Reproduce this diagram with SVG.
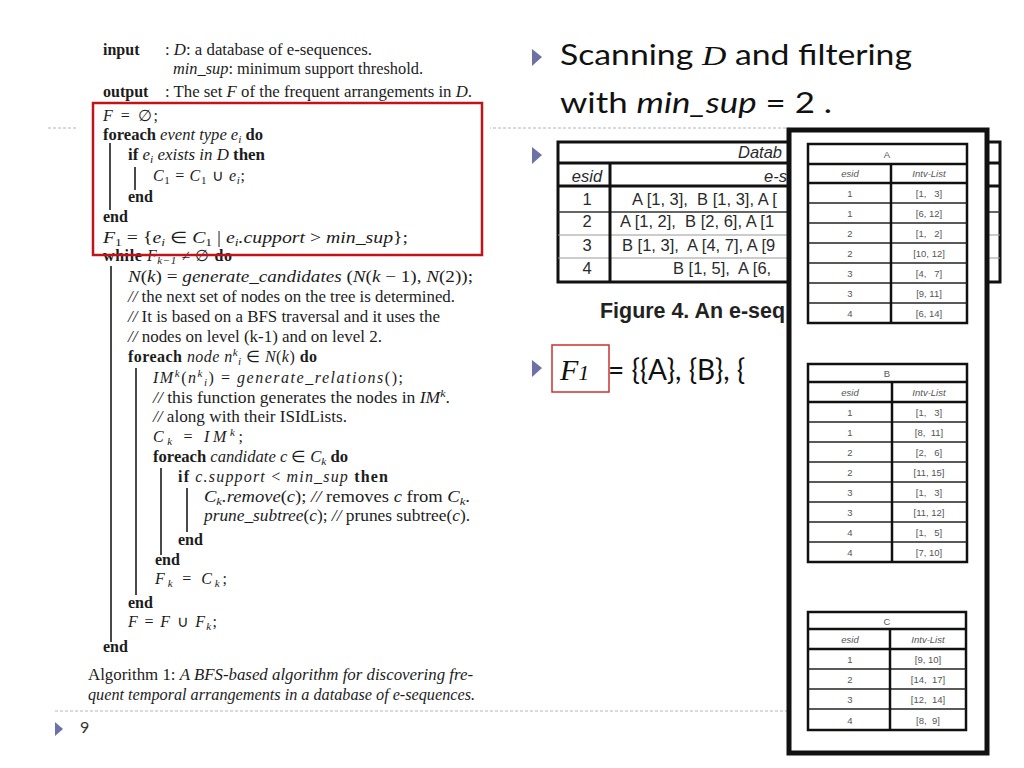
<svg xmlns="http://www.w3.org/2000/svg" width="1024" height="768" viewBox="0 0 1024 768">
<defs>
<style>
.alg{font-family:"Liberation Serif","Times New Roman",serif;font-size:16px;fill:#1c1c1c}
.b{font-weight:bold}
.i{font-style:italic}
.s{font-size:11px}
.bar{stroke:#1c1c1c;stroke-width:1.6}
.dash{stroke:#b4b4c4;stroke-width:1;stroke-dasharray:3 2}
.bul{fill:#6c71a6}
.big{font-family:Lato,"Open Sans",sans-serif;font-size:28px;fill:#111}
.db{font-family:"Liberation Sans",Arial,sans-serif;font-size:16.5px;fill:#2a2a2a}
.dbc{text-anchor:middle}
.tt{font-family:"Liberation Sans",Arial,sans-serif;font-size:9.5px;fill:#555;text-anchor:middle}
.tl{stroke:#111;fill:none}
.thick{stroke:#111;stroke-width:2.5}
.thin{stroke:#222;stroke-width:1.5}
</style>
</defs>
<rect width="1024" height="768" fill="#fff"/>

<g id="slide-lines">
<line class="dash" x1="48" y1="128" x2="790" y2="128"/>
<line class="dash" x1="55" y1="711" x2="790" y2="711"/>
</g>

<g id="algorithm">
<rect x="78" y="38" width="412" height="668" fill="#fff"/>
<text class="alg b" x="103" y="55">input</text>
<text class="alg" x="165" y="55" textLength="207" lengthAdjust="spacingAndGlyphs">: <tspan class="i">D</tspan>: a database of e-sequences.</text>
<text class="alg" x="173" y="74" textLength="250" lengthAdjust="spacingAndGlyphs"><tspan class="i">min_sup</tspan>: minimum support threshold.</text>
<text class="alg b" x="103" y="97">output</text>
<text class="alg" x="165" y="97" textLength="307" lengthAdjust="spacingAndGlyphs">: The set <tspan class="i">F</tspan> of the frequent arrangements in <tspan class="i">D</tspan>.</text>

<text class="alg" x="103" y="121" textLength="55" lengthAdjust="spacing"><tspan class="i">F</tspan> = ∅;</text>
<text class="alg" x="103" y="140" textLength="160" lengthAdjust="spacingAndGlyphs"><tspan class="b">foreach</tspan> <tspan class="i">event type e</tspan><tspan class="s i" dy="3">i</tspan><tspan class="b" dy="-3"> do</tspan></text>
<text class="alg" x="128" y="160" textLength="137" lengthAdjust="spacingAndGlyphs"><tspan class="b">if</tspan> <tspan class="i">e</tspan><tspan class="s i" dy="3">i</tspan><tspan class="i" dy="-3"> exists in D</tspan><tspan class="b"> then</tspan></text>
<text class="alg" x="153" y="181" textLength="92" lengthAdjust="spacing"><tspan class="i">C</tspan><tspan class="s" dy="3">1</tspan><tspan dy="-3"> = </tspan><tspan class="i">C</tspan><tspan class="s" dy="3">1</tspan><tspan dy="-3"> ∪ </tspan><tspan class="i">e</tspan><tspan class="s i" dy="3">i</tspan><tspan dy="-3">;</tspan></text>
<text class="alg b" x="128" y="202">end</text>
<text class="alg b" x="103" y="222">end</text>
<text class="alg" x="103" y="243" textLength="305" lengthAdjust="spacingAndGlyphs"><tspan class="i">F</tspan><tspan class="s" dy="3">1</tspan><tspan dy="-3"> = {</tspan><tspan class="i">e</tspan><tspan class="s i" dy="3">i</tspan><tspan dy="-3"> ∈ </tspan><tspan class="i">C</tspan><tspan class="s" dy="3">1</tspan><tspan dy="-3"> | </tspan><tspan class="i">e</tspan><tspan class="s i" dy="3">i</tspan><tspan class="i" dy="-3">.cupport</tspan> &gt; <tspan class="i">min_sup</tspan>};</text>
<text class="alg" x="103" y="261" textLength="129" lengthAdjust="spacing"><tspan class="b">while</tspan> <tspan class="i">F</tspan><tspan class="s i" dy="3">k−1</tspan><tspan dy="-3"> ≠ ∅ </tspan><tspan class="b">do</tspan></text>
<text class="alg" x="128" y="282" textLength="345" lengthAdjust="spacingAndGlyphs"><tspan class="i">N</tspan>(<tspan class="i">k</tspan>) = <tspan class="i">generate_candidates</tspan> (<tspan class="i">N</tspan>(<tspan class="i">k</tspan> − 1), <tspan class="i">N</tspan>(2));</text>
<text class="alg" x="128" y="302" textLength="327" lengthAdjust="spacingAndGlyphs"><tspan class="i">//</tspan> the next set of nodes on the tree is determined.</text>
<text class="alg" x="128" y="322" textLength="312" lengthAdjust="spacingAndGlyphs"><tspan class="i">//</tspan> It is based on a BFS traversal and it uses the</text>
<text class="alg" x="128" y="342" textLength="254" lengthAdjust="spacingAndGlyphs"><tspan class="i">//</tspan> nodes on level (k-1) and on level 2.</text>
<text class="alg" x="128" y="362" textLength="189" lengthAdjust="spacing"><tspan class="b">foreach</tspan> <tspan class="i">node n</tspan><tspan class="s i" dy="-6">k</tspan><tspan class="s i" dy="9">i</tspan><tspan dy="-3"> ∈ </tspan><tspan class="i">N</tspan>(<tspan class="i">k</tspan>) <tspan class="b">do</tspan></text>
<text class="alg" x="153" y="383" textLength="250" lengthAdjust="spacing"><tspan class="i">IM</tspan><tspan class="s i" dy="-6">k</tspan><tspan dy="6">(</tspan><tspan class="i">n</tspan><tspan class="s i" dy="-6">k</tspan><tspan class="s i" dy="9">i</tspan><tspan dy="-3">) = </tspan><tspan class="i">generate_relations</tspan>();</text>
<text class="alg" x="153" y="403" textLength="297" lengthAdjust="spacingAndGlyphs"><tspan class="i">//</tspan> this function generates the nodes in <tspan class="i">IM</tspan><tspan class="s i" dy="-6">k</tspan><tspan dy="6">.</tspan></text>
<text class="alg" x="153" y="422" textLength="194" lengthAdjust="spacingAndGlyphs"><tspan class="i">//</tspan> along with their ISIdLists.</text>
<text class="alg" x="153" y="442" textLength="90" lengthAdjust="spacing"><tspan class="i">C</tspan><tspan class="s i" dy="3">k</tspan><tspan dy="-3"> = </tspan><tspan class="i">IM</tspan><tspan class="s i" dy="-6">k</tspan><tspan dy="6">;</tspan></text>
<text class="alg" x="153" y="462" textLength="195" lengthAdjust="spacingAndGlyphs"><tspan class="b">foreach</tspan> <tspan class="i">candidate c</tspan> ∈ <tspan class="i">C</tspan><tspan class="s i" dy="3">k</tspan><tspan class="b" dy="-3"> do</tspan></text>
<text class="alg" x="178" y="482" textLength="210" lengthAdjust="spacing"><tspan class="b">if</tspan> <tspan class="i">c.support</tspan> &lt; <tspan class="i">min_sup</tspan> <tspan class="b">then</tspan></text>
<text class="alg" x="204" y="502" textLength="266" lengthAdjust="spacingAndGlyphs"><tspan class="i">C</tspan><tspan class="s i" dy="3">k</tspan><tspan class="i" dy="-3">.remove</tspan>(<tspan class="i">c</tspan>); <tspan class="i">//</tspan> removes <tspan class="i">c</tspan> from <tspan class="i">C</tspan><tspan class="s i" dy="3">k</tspan><tspan dy="-3">.</tspan></text>
<text class="alg" x="204" y="521" textLength="266" lengthAdjust="spacingAndGlyphs"><tspan class="i">prune_subtree</tspan>(<tspan class="i">c</tspan>); <tspan class="i">//</tspan> prunes subtree(<tspan class="i">c</tspan>).</text>
<text class="alg b" x="178" y="545">end</text>
<text class="alg b" x="155" y="565">end</text>
<text class="alg" x="155" y="584" textLength="72" lengthAdjust="spacing"><tspan class="i">F</tspan><tspan class="s i" dy="3">k</tspan><tspan dy="-3"> = </tspan><tspan class="i">C</tspan><tspan class="s i" dy="3">k</tspan><tspan dy="-3">;</tspan></text>
<text class="alg b" x="128" y="608">end</text>
<text class="alg" x="128" y="627" textLength="89" lengthAdjust="spacing"><tspan class="i">F</tspan> = <tspan class="i">F</tspan> ∪ <tspan class="i">F</tspan><tspan class="s i" dy="3">k</tspan><tspan dy="-3">;</tspan></text>
<text class="alg b" x="103" y="652">end</text>
<text class="alg" x="88" y="680" textLength="385" lengthAdjust="spacingAndGlyphs">Algorithm 1: <tspan class="i">A BFS-based algorithm for discovering fre-</tspan></text>
<text class="alg i" x="88" y="700" textLength="387" lengthAdjust="spacingAndGlyphs">quent temporal arrangements in a database of e-sequences.</text>

<line class="bar" x1="110" y1="143" x2="110" y2="210"/>
<line class="bar" x1="135" y1="167" x2="135" y2="190"/>
<line class="bar" x1="111" y1="266" x2="111" y2="642"/>
<line class="bar" x1="136" y1="368" x2="136" y2="595"/>
<line class="bar" x1="161" y1="468" x2="161" y2="555"/>
<line class="bar" x1="187" y1="488" x2="187" y2="532"/>

<rect x="93" y="103" width="389" height="152" fill="none" stroke="#c0141b" stroke-width="2.5"/>
</g>

<g id="bullets">
<polygon class="bul" points="532,49 542,57 532,66"/>
<polygon class="bul" points="532,147 542,155 532,164"/>
<polygon class="bul" points="532,360 542,368 532,377"/>
<polygon class="bul" points="55,722 63,729 55,736"/>
</g>

<g id="heading">
<text class="big" x="560" y="65" textLength="352" lengthAdjust="spacingAndGlyphs">Scanning <tspan font-family="Liberation Serif" font-style="italic">D</tspan> and filtering</text>
<text class="big" x="560" y="113" textLength="272" lengthAdjust="spacingAndGlyphs">with <tspan font-style="italic">min_sup</tspan> = 2 .</text>
</g>

<g id="database-table">
<rect x="558" y="142" width="442" height="140" class="tl" stroke-width="3"/>
<line x1="558" y1="163" x2="1000" y2="163" stroke="#111" stroke-width="3"/>
<line x1="558" y1="186" x2="1000" y2="186" stroke="#111" stroke-width="3"/>
<line x1="558" y1="212" x2="1000" y2="212" stroke="#333" stroke-width="1.5"/>
<line x1="558" y1="235" x2="1000" y2="235" stroke="#999" stroke-width="1"/>
<line x1="558" y1="258" x2="1000" y2="258" stroke="#999" stroke-width="1"/>
<line x1="610" y1="163" x2="610" y2="282" stroke="#111" stroke-width="3"/>
<text class="db i" x="738" y="158">Datab</text>
<text class="db i dbc" x="587" y="182">esid</text>
<text class="db i" x="764" y="182">e-s</text>
<text class="db dbc" x="587" y="205">1</text>
<text class="db dbc" x="587" y="227">2</text>
<text class="db dbc" x="587" y="251">3</text>
<text class="db dbc" x="587" y="274">4</text>
<text class="db" x="632" y="205">A [1, 3],&#160; B [1, 3], A [</text>
<text class="db" x="620" y="227">A [1, 2],&#160; B [2, 6], A [1</text>
<text class="db" x="622" y="251">B [1, 3],&#160; A [4, 7], A [9</text>
<text class="db" x="673" y="274">B [1, 5],&#160; A [6,</text>
<text x="600" y="318" font-family="'Liberation Sans',Arial,sans-serif" font-weight="bold" font-size="22" fill="#222" textLength="185" lengthAdjust="spacingAndGlyphs">Figure 4. An e-seq</text>
</g>

<g id="f1">
<rect x="552" y="345" width="57" height="47" fill="none" stroke="#c8332f" stroke-width="1.5"/>
<text x="560" y="380" font-family="'Liberation Serif',serif" font-style="italic" font-size="30" fill="#111">F<tspan font-size="22">1</tspan></text>
<text class="big" x="608" y="380">= {{A}, {B}, {</text>
</g>

<g id="overlay">
<rect x="789" y="130" width="198" height="623" fill="#fff" stroke="#111" stroke-width="5"/>
</g>

<g id="table-A">
<rect x="808" y="144" width="159" height="179" class="tl" stroke-width="2.5"/>
<line class="thick" x1="808" y1="164" x2="967" y2="164"/>
<line class="thick" x1="808" y1="183" x2="967" y2="183"/>
<line class="thin" x1="808" y1="203" x2="967" y2="203"/>
<line class="thin" x1="808" y1="223" x2="967" y2="223"/>
<line class="thin" x1="808" y1="243" x2="967" y2="243"/>
<line class="thin" x1="808" y1="263" x2="967" y2="263"/>
<line class="thin" x1="808" y1="283" x2="967" y2="283"/>
<line class="thin" x1="808" y1="303" x2="967" y2="303"/>
<line class="thick" x1="891" y1="164" x2="891" y2="323"/>
<text class="tt" x="887" y="158">A</text>
<text class="tt i" x="850" y="177">esid</text>
<text class="tt i" x="929" y="177">Intv-List</text>
<text class="tt" x="850" y="197">1</text><text class="tt" x="929" y="197">[1,&#160;&#160; 3]</text>
<text class="tt" x="850" y="217">1</text><text class="tt" x="929" y="217">[6, 12]</text>
<text class="tt" x="850" y="237">2</text><text class="tt" x="929" y="237">[1,&#160;&#160; 2]</text>
<text class="tt" x="850" y="257">2</text><text class="tt" x="929" y="257">[10, 12]</text>
<text class="tt" x="850" y="277">3</text><text class="tt" x="929" y="277">[4,&#160;&#160; 7]</text>
<text class="tt" x="850" y="297">3</text><text class="tt" x="929" y="297">[9, 11]</text>
<text class="tt" x="850" y="317">4</text><text class="tt" x="929" y="317">[6, 14]</text>
</g>

<g id="table-B">
<rect x="808" y="364" width="159" height="198" class="tl" stroke-width="2.5"/>
<line class="thick" x1="808" y1="382" x2="967" y2="382"/>
<line class="thick" x1="808" y1="402" x2="967" y2="402"/>
<line class="thin" x1="808" y1="422" x2="967" y2="422"/>
<line class="thin" x1="808" y1="442" x2="967" y2="442"/>
<line class="thin" x1="808" y1="462" x2="967" y2="462"/>
<line class="thin" x1="808" y1="482" x2="967" y2="482"/>
<line class="thin" x1="808" y1="502" x2="967" y2="502"/>
<line class="thin" x1="808" y1="522" x2="967" y2="522"/>
<line class="thin" x1="808" y1="542" x2="967" y2="542"/>
<line class="thick" x1="892" y1="382" x2="892" y2="562"/>
<text class="tt" x="887" y="377">B</text>
<text class="tt i" x="850" y="396">esid</text>
<text class="tt i" x="929" y="396">Intv-List</text>
<text class="tt" x="850" y="416">1</text><text class="tt" x="929" y="416">[1,&#160;&#160; 3]</text>
<text class="tt" x="850" y="436">1</text><text class="tt" x="929" y="436">[8,&#160; 11]</text>
<text class="tt" x="850" y="456">2</text><text class="tt" x="929" y="456">[2,&#160;&#160; 6]</text>
<text class="tt" x="850" y="476">2</text><text class="tt" x="929" y="476">[11, 15]</text>
<text class="tt" x="850" y="496">3</text><text class="tt" x="929" y="496">[1,&#160;&#160; 3]</text>
<text class="tt" x="850" y="516">3</text><text class="tt" x="929" y="516">[11, 12]</text>
<text class="tt" x="850" y="536">4</text><text class="tt" x="929" y="536">[1,&#160;&#160; 5]</text>
<text class="tt" x="850" y="556">4</text><text class="tt" x="929" y="556">[7, 10]</text>
</g>

<g id="table-C">
<rect x="808" y="612" width="158" height="118" class="tl" stroke-width="2.5"/>
<line class="thick" x1="808" y1="629" x2="966" y2="629"/>
<line class="thick" x1="808" y1="649" x2="966" y2="649"/>
<line class="thin" x1="808" y1="669" x2="966" y2="669"/>
<line class="thin" x1="808" y1="689" x2="966" y2="689"/>
<line class="thin" x1="808" y1="709" x2="966" y2="709"/>
<line class="thick" x1="890" y1="629" x2="890" y2="730"/>
<text class="tt" x="887" y="625">C</text>
<text class="tt i" x="850" y="643">esid</text>
<text class="tt i" x="928" y="643">Intv-List</text>
<text class="tt" x="850" y="663">1</text><text class="tt" x="928" y="663">[9, 10]</text>
<text class="tt" x="850" y="683">2</text><text class="tt" x="928" y="683">[14,&#160; 17]</text>
<text class="tt" x="850" y="703">3</text><text class="tt" x="928" y="703">[12,&#160; 14]</text>
<text class="tt" x="850" y="724">4</text><text class="tt" x="928" y="724">[8,&#160; 9]</text>
</g>

<g id="slide-number">
<text x="80" y="733" font-family="Lato,'Open Sans',sans-serif" font-size="16" fill="#333">9</text>
</g>
</svg>
